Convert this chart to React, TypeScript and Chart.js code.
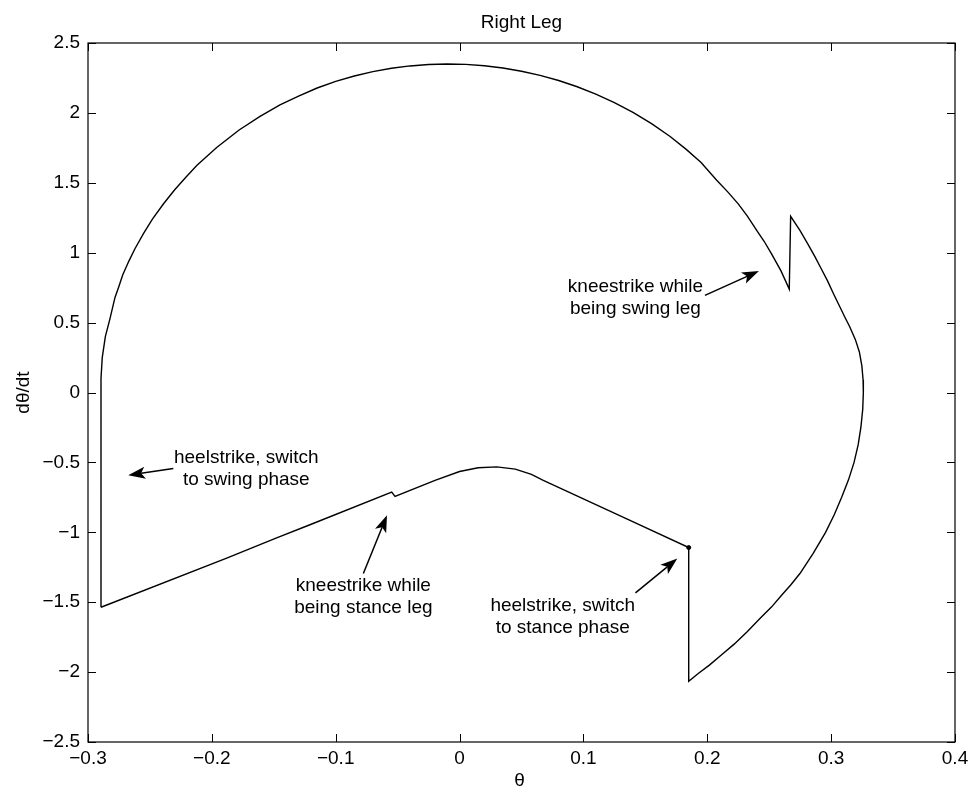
import React, { useEffect, useRef } from "react";
import { Chart, registerables } from "chart.js";

Chart.register(...registerables);

// Phase-plane trajectory of the right leg (theta, dtheta/dt)
const thetaValues = [
  -0.2895, -0.2895, -0.2885, -0.286, -0.2822, -0.2782, -0.275, -0.272, -0.267, -0.262,
  -0.255, -0.248, -0.239, -0.23, -0.221, -0.212, -0.1961, -0.178, -0.1611, -0.145,
  -0.13, -0.115, -0.1, -0.085, -0.07, -0.055, -0.04, -0.025, -0.01, 0.005,
  0.02, 0.035, 0.05, 0.065, 0.08, 0.095, 0.11, 0.125, 0.14, 0.155,
  0.17, 0.183, 0.195, 0.2076, 0.2165, 0.225, 0.2325, 0.2399, 0.246, 0.252,
  0.2595, 0.2662,
  0.2673, 0.2748, 0.281, 0.287, 0.292, 0.297, 0.302, 0.3071, 0.311, 0.315,
  0.3195, 0.3228, 0.3248, 0.3258, 0.326, 0.3255, 0.324, 0.3218, 0.3185, 0.314,
  0.3085, 0.3025, 0.2955, 0.2855, 0.2748, 0.2675, 0.26, 0.2518, 0.2425, 0.2324,
  0.2217, 0.2111, 0.2017, 0.1927, 0.185,
  0.185, 0.1376, 0.0676, 0.058, 0.045, 0.03, 0.015, 0.0, -0.0198, -0.0521,
  -0.0548, -0.1208, -0.1477, -0.188, -0.2895,
];
const dthetaValues = [
  -1.536, 0.1, 0.25, 0.4, 0.53, 0.68, 0.76, 0.84, 0.94, 1.03,
  1.14, 1.24, 1.35, 1.45, 1.54, 1.625, 1.753, 1.878, 1.975, 2.058,
  2.12, 2.178, 2.225, 2.264, 2.295, 2.319, 2.336, 2.346, 2.35, 2.347,
  2.337, 2.321, 2.298, 2.268, 2.232, 2.187, 2.135, 2.074, 2.004, 1.923,
  1.831, 1.739, 1.645, 1.518, 1.435, 1.349, 1.26, 1.16, 1.08, 0.99,
  0.87, 0.74,
  1.26, 1.16, 1.065, 0.97, 0.885, 0.8, 0.705, 0.612, 0.54, 0.47,
  0.38, 0.29, 0.19, 0.09, 0.0, -0.12, -0.25, -0.375, -0.5, -0.625,
  -0.75, -0.875, -1.0, -1.15, -1.295, -1.375, -1.45, -1.535, -1.617, -1.71,
  -1.8, -1.88, -1.95, -2.01, -2.066,
  -1.109, -0.914, -0.628, -0.585, -0.548, -0.532, -0.538, -0.565, -0.628, -0.743,
  -0.712, -0.946, -1.04, -1.185, -1.536,
];

// Marker at the stance heelstrike point
const markerTheta = [0.185];
const markerDtheta = [-1.109];

const xTickValues = [-0.3, -0.2, -0.1, 0, 0.1, 0.2, 0.3, 0.4];
const xTickLabels = ["−0.3", "−0.2", "−0.1", "0", "0.1", "0.2", "0.3", "0.4"];
const yTickValues = [-2.5, -2, -1.5, -1, -0.5, 0, 0.5, 1, 1.5, 2, 2.5];
const yTickLabels = ["−2.5", "−2", "−1.5", "−1", "−0.5", "0", "0.5", "1", "1.5", "2", "2.5"];

const chartTitle = "Right Leg";
const xAxisTitle = "θ";
const yAxisTitle = "dθ/dt";

// Annotation texts (first-line centre in data coordinates)
const noteLines = [
  ["kneestrike while", "being swing leg"],
  ["heelstrike, switch", "to swing phase"],
  ["kneestrike while", "being stance leg"],
  ["heelstrike, switch", "to stance phase"],
];
const noteX = [0.142, -0.1722, -0.0777, 0.0833];
const noteY = [0.753, -0.466, -1.379, -1.522];

// Arrows: tail -> tip, in data coordinates
const arrowTailX = [0.1981, -0.2311, -0.0777, 0.142];
const arrowTailY = [0.695, -0.544, -1.295, -1.433];
const arrowTipX = [0.2417, -0.2675, -0.0586, 0.1758];
const arrowTipY = [0.869, -0.592, -0.878, -1.188];

const FONT = '"Liberation Sans", Arial, Helvetica, sans-serif';
const FONT_SIZE = 19;

const decorPlugin = {
  id: "matlabDecor",
  beforeDraw(chart: any) {
    const { ctx, width, height } = chart;
    ctx.save();
    ctx.fillStyle = "#ffffff";
    ctx.fillRect(0, 0, width, height);
    ctx.restore();
  },
  afterDraw(chart: any) {
    const { ctx, chartArea } = chart;
    const xs = chart.scales.x;
    const ys = chart.scales.y;
    const { left, right, top, bottom } = chartArea;
    ctx.save();
    ctx.strokeStyle = "#000";
    ctx.lineWidth = 1.2;
    ctx.strokeRect(left, top, right - left, bottom - top);

    const tl = 8;
    ctx.lineWidth = 1;
    ctx.beginPath();
    xTickValues.forEach((v) => {
      const px = Math.round(xs.getPixelForValue(v)) + 0.5;
      ctx.moveTo(px, bottom);
      ctx.lineTo(px, bottom - tl);
      ctx.moveTo(px, top);
      ctx.lineTo(px, top + tl);
    });
    yTickValues.forEach((v) => {
      const py = Math.round(ys.getPixelForValue(v)) + 0.5;
      ctx.moveTo(left, py);
      ctx.lineTo(left + tl, py);
      ctx.moveTo(right, py);
      ctx.lineTo(right - tl, py);
    });
    ctx.stroke();

    ctx.fillStyle = "#000";
    ctx.font = `${FONT_SIZE}px ${FONT}`;
    ctx.textAlign = "center";
    ctx.textBaseline = "middle";
    // title
    ctx.fillText(chartTitle, (left + right) / 2, 23);
    // x axis title
    ctx.fillText(xAxisTitle, (left + right) / 2 - 2, 781);
    // y axis title
    ctx.save();
    ctx.translate(24, (top + bottom) / 2);
    ctx.rotate(-Math.PI / 2);
    ctx.fillText(yAxisTitle, 0, 0);
    ctx.restore();

    // annotation texts
    noteLines.forEach((lines, i) => {
      const cx = xs.getPixelForValue(noteX[i]);
      const cy = ys.getPixelForValue(noteY[i]);
      lines.forEach((ln, j) => ctx.fillText(ln, cx, cy + j * 22));
    });

    // arrows
    arrowTailX.forEach((_, i) => {
      const x0 = xs.getPixelForValue(arrowTailX[i]);
      const y0 = ys.getPixelForValue(arrowTailY[i]);
      const x1 = xs.getPixelForValue(arrowTipX[i]);
      const y1 = ys.getPixelForValue(arrowTipY[i]);
      const dx = x1 - x0;
      const dy = y1 - y0;
      const len = Math.hypot(dx, dy);
      const ux = dx / len;
      const uy = dy / len;
      const nx = -uy;
      const ny = ux;
      const headLen = 17;
      const headHalf = 6;
      const notch = 4;
      ctx.lineWidth = 1.5;
      ctx.beginPath();
      ctx.moveTo(x0, y0);
      ctx.lineTo(x1 - ux * (headLen - notch), y1 - uy * (headLen - notch));
      ctx.stroke();
      ctx.beginPath();
      ctx.moveTo(x1, y1);
      ctx.lineTo(x1 - ux * headLen + nx * headHalf, y1 - uy * headLen + ny * headHalf);
      ctx.lineTo(x1 - ux * (headLen - notch), y1 - uy * (headLen - notch));
      ctx.lineTo(x1 - ux * headLen - nx * headHalf, y1 - uy * headLen - ny * headHalf);
      ctx.closePath();
      ctx.fill();
    });
    ctx.restore();
  },
};

export default function App() {
  const canvasRef = useRef<HTMLCanvasElement | null>(null);

  useEffect(() => {
    if (!canvasRef.current) return;
    const points = thetaValues.map((x, i) => ({ x, y: dthetaValues[i] }));
    const marker = markerTheta.map((x, i) => ({ x, y: markerDtheta[i] }));
    const chart = new Chart(canvasRef.current, {
      type: "scatter",
      data: {
        datasets: [
          {
            data: points,
            showLine: true,
            borderColor: "#000",
            borderWidth: 1.4,
            pointRadius: 0,
            pointHoverRadius: 0,
            tension: 0,
            fill: false,
          },
          {
            data: marker,
            showLine: false,
            pointRadius: 2,
            backgroundColor: "#000",
            borderColor: "#000",
          },
        ],
      },
      options: {
        responsive: false,
        animation: false,
        events: [],
        layout: { padding: { top: 43, right: 21, left: 0, bottom: 0 } },
        plugins: {
          legend: { display: false },
          title: { display: false },
          tooltip: { enabled: false },
        },
        scales: {
          x: {
            type: "linear",
            min: -0.3,
            max: 0.4,
            grid: { display: false, drawTicks: false },
            border: { display: false },
            afterBuildTicks: (scale: any) => {
              scale.ticks = xTickValues.map((v) => ({ value: v }));
            },
            afterFit: (scale: any) => {
              scale.height = 51;
            },
            ticks: {
              padding: 5,
              color: "#000",
              font: { family: FONT, size: FONT_SIZE },
              maxRotation: 0,
              autoSkip: false,
              callback: (_v: any, idx: number) => xTickLabels[idx],
            },
          },
          y: {
            type: "linear",
            min: -2.5,
            max: 2.5,
            grid: { display: false, drawTicks: false },
            border: { display: false },
            afterBuildTicks: (scale: any) => {
              scale.ticks = yTickValues.map((v) => ({ value: v }));
            },
            afterFit: (scale: any) => {
              scale.width = 88;
            },
            ticks: {
              padding: 8,
              color: "#000",
              font: { family: FONT, size: FONT_SIZE },
              autoSkip: false,
              callback: (_v: any, idx: number) => yTickLabels[idx],
            },
          },
        },
      },
      plugins: [decorPlugin],
    });
    return () => chart.destroy();
  }, []);

  return (
    <div
      style={{
        position: "fixed",
        left: 0,
        top: 0,
        width: 976,
        height: 793,
        background: "#fff",
      }}
    >
      <canvas ref={canvasRef} width={976} height={793} style={{ display: "block" }} />
    </div>
  );
}
